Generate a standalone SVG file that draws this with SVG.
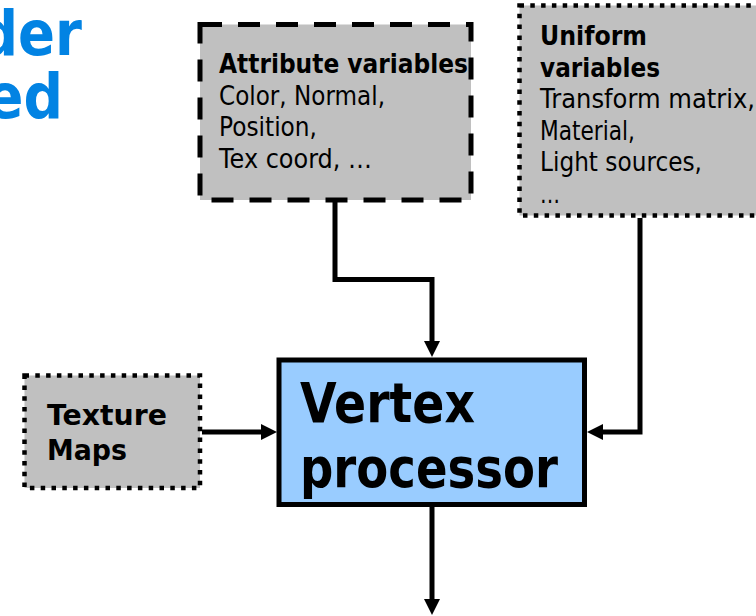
<svg xmlns="http://www.w3.org/2000/svg" width="756" height="616" viewBox="0 0 756 616">
  <style>
    .title { font-family: "DejaVu Sans", Verdana, sans-serif; font-weight: bold; fill: #0283E3; }
    .txt { font-family: "DejaVu Sans", Verdana, sans-serif; fill: #000; }
    .b { font-weight: bold; }
    .gray { fill: #C0C0C0; stroke: #000; }
    .dashed { stroke-width: 5; stroke-dasharray: 22 16; }
    .dotted { stroke-width: 4.5; stroke-dasharray: 4.5 6.3; }
    .proc { fill: #99CCFF; stroke: #000; stroke-width: 5; }
    .wire { fill: none; stroke: #000; stroke-width: 5; stroke-linejoin: miter; marker-end: url(#head); }
  </style>
  <defs>
    <marker id="head" markerUnits="userSpaceOnUse" markerWidth="16" markerHeight="16" refX="0" refY="8" orient="auto" overflow="visible">
      <path d="M0,0 L16,8 L0,16 Z" fill="#000"/>
    </marker>
  </defs>

  <rect width="756" height="616" fill="#fff"/>

  <!-- slide title fragment, running off the left edge -->
  <g id="title">
    <text class="title" x="-21" y="55" font-size="62" textLength="103" lengthAdjust="spacingAndGlyphs">der</text>
    <text class="title" x="-14" y="118" font-size="62" textLength="77" lengthAdjust="spacingAndGlyphs">ed</text>
  </g>

  <!-- connectors -->
  <g id="connectors">
    <path class="wire" d="M335,202 V279.5 H432 V341"/>
    <path class="wire" d="M640,218 V432 H603"/>
    <path class="wire" d="M202,432 H261"/>
    <path class="wire" d="M432,507 V599"/>
  </g>

  <g id="attribute-variables">
    <rect class="gray dashed" x="200" y="24.5" width="271" height="175.5"/>
    <text class="txt b" x="219" y="73" font-size="26" textLength="249" lengthAdjust="spacingAndGlyphs">Attribute variables</text>
    <text class="txt" x="219" y="104.5" font-size="26" textLength="166" lengthAdjust="spacingAndGlyphs">Color, Normal,</text>
    <text class="txt" x="219" y="136" font-size="26" textLength="98" lengthAdjust="spacingAndGlyphs">Position,</text>
    <text class="txt" x="219" y="167.5" font-size="26" textLength="153" lengthAdjust="spacingAndGlyphs">Tex coord, …</text>
  </g>

  <g id="uniform-variables">
    <rect class="gray dotted" x="519.5" y="5.5" width="250" height="210"/>
    <text class="txt b" x="540" y="45" font-size="26" textLength="107" lengthAdjust="spacingAndGlyphs">Uniform</text>
    <text class="txt b" x="540" y="76.5" font-size="26" textLength="120" lengthAdjust="spacingAndGlyphs">variables</text>
    <text class="txt" x="540" y="108" font-size="26" textLength="215" lengthAdjust="spacingAndGlyphs">Transform matrix,</text>
    <text class="txt" x="540" y="139.5" font-size="26" textLength="95" lengthAdjust="spacingAndGlyphs">Material,</text>
    <text class="txt" x="540" y="171" font-size="26" textLength="162" lengthAdjust="spacingAndGlyphs">Light sources,</text>
    <text class="txt" x="540" y="202.5" font-size="26" textLength="20" lengthAdjust="spacingAndGlyphs">…</text>
  </g>

  <g id="texture-maps">
    <rect class="gray dotted" x="24.5" y="375.5" width="175.5" height="112.5"/>
    <text class="txt b" x="47" y="425" font-size="28.5" textLength="120" lengthAdjust="spacingAndGlyphs">Texture</text>
    <text class="txt b" x="47" y="460" font-size="28.5" textLength="80" lengthAdjust="spacingAndGlyphs">Maps</text>
  </g>

  <g id="vertex-processor">
    <rect class="proc" x="279" y="360" width="305.5" height="144.5"/>
    <text class="txt b" x="300" y="422" font-size="55" textLength="175" lengthAdjust="spacingAndGlyphs">Vertex</text>
    <text class="txt b" x="300" y="487" font-size="55" textLength="258" lengthAdjust="spacingAndGlyphs">processor</text>
  </g>
</svg>
